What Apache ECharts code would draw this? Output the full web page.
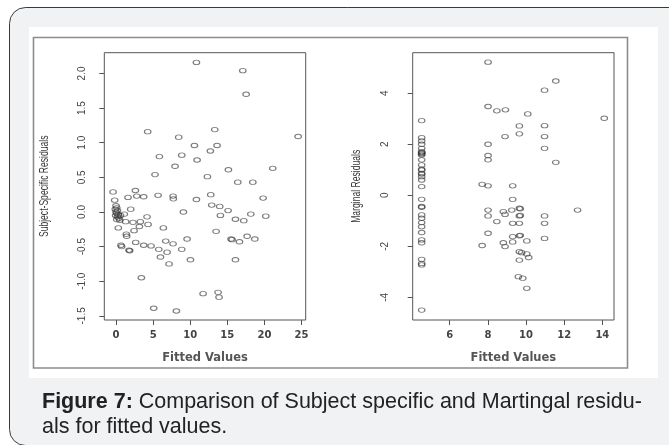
<!DOCTYPE html>
<html>
<head>
<meta charset="utf-8">
<script src="https://cdn.jsdelivr.net/npm/echarts@6/dist/echarts.min.js"></script>
<style>
  html, body { margin: 0; padding: 0; background: #fff; }
  #chart { width: 669px; height: 445px; }
</style>
</head>
<body>
<div id="chart"></div>
<script>
// left panel: subject-specific residuals vs fitted values
const leftFitted = [10.84, 17.09, 17.54, 4.27, 8.45, 24.55, 13.31, 10.57, 13.62, 12.72,
  5.85, 8.86, 10.93, 7.96, 21.13, 15.15, 5.26, 12.32, 16.41, 18.44,
  -0.40, 2.61, 2.79, 1.62, 3.73, 5.67, 7.69, 7.73, 12.77, 10.84,
  19.83, -0.18, 1.98, 12.90, 13.98, 15.11, 9.08, 14.07, 18.17, 20.19,
  16.10, 17.22, 4.18, 3.28, 2.29, 1.30, 1.12, 4.32, 3.15, 0.31,
  6.38, 2.43, 1.39, 1.44, 13.49, 9.58, 15.51, 15.65, 17.67, 18.71,
  16.64, 6.70, 2.65, 3.73, 4.72, 7.69, 0.67, 0.76, 1.84, 1.75,
  5.76, 6.88, 8.86, 5.99, 10.03, 16.10, 7.15, 3.42, 11.74, 13.76,
  13.89, 5.08, 8.14,
  0.00, 0.10, -0.10, 0.20, 0.00, 0.10, 0.30, -0.05, 0.20, 0.40, 0.60, 0.10, 0.50];
const leftResid = [2.16, 2.04, 1.70, 1.16, 1.08, 1.09, 1.19, 0.96, 0.96, 0.88,
  0.80, 0.82, 0.75, 0.66, 0.63, 0.61, 0.54, 0.51, 0.43, 0.43,
  0.29, 0.31, 0.23, 0.21, 0.22, 0.24, 0.23, 0.19, 0.25, 0.18,
  0.20, 0.17, 0.04, 0.10, 0.08, 0.02, 0.00, -0.05, -0.03, -0.06,
  -0.105, -0.125, -0.07, -0.14, -0.15, -0.14, -0.03, -0.18, -0.21, -0.23,
  -0.23, -0.27, -0.32, -0.35, -0.28, -0.39, -0.39, -0.40, -0.35, -0.39,
  -0.43, -0.42, -0.44, -0.48, -0.49, -0.46, -0.48, -0.50, -0.56, -0.55,
  -0.54, -0.58, -0.54, -0.65, -0.69, -0.69, -0.75, -0.95, -1.18, -1.16,
  -1.23, -1.39, -1.43,
  0.09, 0.06, 0.04, 0.02, 0.00, -0.02, -0.04, -0.05, -0.07, -0.09, -0.05, -0.11, -0.12];

// right panel: marginal residuals vs fitted values
const rightFitted = [4.53, 4.53, 4.53, 4.53, 4.53, 4.53, 4.53, 4.53, 4.53, 4.53,
  4.53, 4.53, 4.53, 4.53, 4.53, 4.53, 4.53, 4.53, 4.53, 4.53,
  4.53, 4.53, 4.53, 4.53, 4.53, 4.53, 4.53, 4.53, 4.53, 4.53,
  4.53, 4.53, 4.53,
  8.01, 11.56, 10.97, 8.01, 8.47, 8.92, 10.09, 14.10, 9.65, 9.65,
  8.90, 10.97, 10.97, 8.01, 10.97, 8.01, 8.01, 11.56, 7.70, 8.01,
  9.30, 9.30, 8.01, 8.81, 9.25, 9.65, 9.70, 12.70, 8.01, 8.90,
  9.65, 9.70, 10.97, 8.47, 9.30, 9.65, 10.97, 8.01, 9.30, 9.65,
  9.70, 10.97, 7.70, 8.81, 8.90, 9.30, 10.04, 9.65, 9.77, 10.04,
  10.14, 9.65, 9.60, 9.83, 10.04];
const rightResid = [2.93, 2.26, 2.13, 2.00, 1.84, 1.71, 1.68, 1.65, 1.62, 1.58,
  1.39, 1.19, 1.02, 0.99, 0.86, 0.83, 0.73, 0.60, 0.34, -0.16,
  -0.44, -0.47, -0.77, -0.90, -1.07, -1.23, -1.46, -1.75, -1.86, -2.51,
  -2.67, -2.73, -4.50,
  5.22, 4.48, 4.12, 3.48, 3.31, 3.35, 3.19, 3.02, 2.72, 2.41,
  2.30, 2.73, 2.30, 2.00, 1.84, 1.56, 1.39, 1.29, 0.43, 0.37,
  0.37, -0.16, -0.58, -0.64, -0.58, -0.51, -0.53, -0.58, -0.81, -0.75,
  -0.81, -0.79, -0.81, -1.03, -1.10, -1.10, -1.10, -1.49, -1.62, -1.59,
  -1.57, -1.69, -1.97, -1.86, -2.01, -1.83, -1.79, -2.21, -2.25, -2.30,
  -2.44, -2.54, -3.19, -3.25, -3.65];

const leftXTicks = [0, 5, 10, 15, 20, 25];
const leftYTicks = [-1.5, -1, -0.5, 0, 0.5, 1, 1.5, 2];
const rightXTicks = [6, 8, 10, 12, 14];
const rightYTicks = [-4, -2, 0, 2, 4];

const axisColor = '#555';
const labelFont = 'Liberation Sans, Arial, sans-serif';
const wideFont = 'DejaVu Sans, sans-serif';

function xAxisOf(idx, min, max, ticks) {
  return {
    type: 'value', gridIndex: idx, min: min, max: max,
    name: 'Fitted Values', nameLocation: 'middle', nameGap: 32,
    nameTextStyle: { color: '#555', fontFamily: wideFont, fontSize: 11.5, fontWeight: 'bold' },
    axisLine: { show: false, onZero: false },
    axisTick: { show: true, length: 5, customValues: ticks, lineStyle: { color: axisColor } },
    axisLabel: { customValues: ticks, margin: 10, color: '#444', fontFamily: wideFont, fontSize: 10, fontWeight: 'bold' },
    splitLine: { show: false }
  };
}

function yAxisOf(idx, min, max, ticks, margin, fmt) {
  return {
    type: 'value', gridIndex: idx, min: min, max: max,
    axisLine: { show: false, onZero: false },
    axisTick: { show: true, length: 5, customValues: ticks, lineStyle: { color: axisColor } },
    axisLabel: { customValues: ticks, rotate: 90, margin: margin, color: '#444', fontFamily: labelFont, fontSize: 10, formatter: fmt },
    splitLine: { show: false }
  };
}

// the y titles are squeezed along their length in the original, so they are drawn as scaled text
function yTitle(x, text) {
  return {
    type: 'text', z: 5, x: x, y: 186.3, rotation: Math.PI / 2, scaleX: 0.66,
    style: { text: text, x: 0, y: 0, align: 'center', verticalAlign: 'middle',
      font: '13px Liberation Sans, Arial, sans-serif', fill: '#3a3a3a' }
  };
}

const pointStyle = {
  type: 'scatter',
  symbol: 'circle',
  symbolSize: [6.5, 4.5],
  itemStyle: { color: 'rgba(255,255,255,0)', borderColor: 'rgba(50,50,50,0.8)', borderWidth: 1 },
  emphasis: { disabled: true },
  silent: true
};

const chart = echarts.init(document.getElementById('chart'), null, { renderer: 'canvas' });

chart.setOption({
  animation: false,
  graphic: [
    { type: 'rect', z: -5, shape: { x: 9.5, y: 7.5, width: 700, height: 438, r: 16 },
      style: { fill: '#f1f2f4', stroke: '#3a3a3a', lineWidth: 1 } },
    { type: 'rect', z: -4, shape: { x: 29, y: 27, width: 629, height: 351 },
      style: { fill: '#fff' } },
    { type: 'rect', z: -3, shape: { x: 33.5, y: 37.5, width: 594, height: 330.5 },
      style: { fill: 'none', stroke: '#8c8c8c', lineWidth: 1.6 } },
    yTitle(44.5, 'Subject-Specific Residuals'),
    yTitle(356.5, 'Marginal Residuals'),
    { type: 'text', z: 5, left: 42, top: 390,
      style: {
        text: '{b|Figure 7:} Comparison of Subject specific and Martingal residu-\nals for fitted values.',
        font: '21.5px Liberation Sans, Arial, sans-serif',
        fill: '#222', lineHeight: 25,
        rich: { b: { fontWeight: 'bold', fontSize: 21.5, fontFamily: 'Liberation Sans, Arial, sans-serif', fill: '#222' } }
      } }
  ],
  grid: [
    { left: 104.3, top: 52.7, width: 201.4, height: 267.3, show: true, borderColor: axisColor, borderWidth: 1, backgroundColor: 'transparent' },
    { left: 412.7, top: 52.7, width: 201.3, height: 267.3, show: true, borderColor: axisColor, borderWidth: 1, backgroundColor: 'transparent' }
  ],
  xAxis: [
    xAxisOf(0, -1.58, 25.57, leftXTicks),
    xAxisOf(1, 4.06, 14.61, rightXTicks)
  ],
  yAxis: [
    yAxisOf(0, -1.56, 2.30, leftYTicks, 17, v => v.toFixed(1)),
    yAxisOf(1, -4.89, 5.59, rightYTicks, 22, v => String(v))
  ],
  series: [
    Object.assign({}, pointStyle, { xAxisIndex: 0, yAxisIndex: 0, data: leftFitted.map((x, i) => [x, leftResid[i]]) }),
    Object.assign({}, pointStyle, { xAxisIndex: 1, yAxisIndex: 1, data: rightFitted.map((x, i) => [x, rightResid[i]]) })
  ]
});
</script>
</body>
</html>
